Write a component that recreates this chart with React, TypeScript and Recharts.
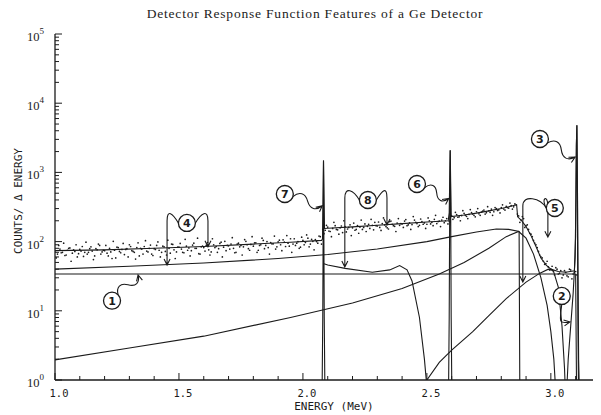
import React from "react";
import {
  ComposedChart,
  Line,
  Scatter,
  XAxis,
  YAxis,
  ReferenceLine,
  ReferenceDot,
} from "recharts";

const TITLE = "Detector Response Function Features of a Ge Detector";

// measured spectrum: channels every 10 keV from 1.000 MeV, plus the
// interleaved channels (offset by 5 keV)
const SPEC_START = 1.0;
const SPEC_STEP = 0.01;
const SPEC_COUNTS = [
  74, 66, 78, 70, 63, 75, 81, 68, 72, 60,
  77, 85, 70, 66, 79, 73, 62, 76, 88, 71,
  74, 68, 80, 57, 75, 83, 72, 77, 65, 79,
  90, 74, 70, 82, 62, 78, 85, 73, 80, 66,
  79, 88, 75, 70, 84, 64, 80, 92, 76, 71,
  83, 78, 69, 86, 81, 74, 95, 80, 67, 84,
  82, 88, 76, 71, 90, 85, 79, 98, 83, 74,
  87, 92, 80, 70, 95, 88, 84, 101, 79, 91,
  86, 96, 75, 90, 104, 88, 82, 97, 93, 78,
  99, 90, 106, 85, 95, 110, 92, 88, 100, 83,
  104, 97, 112, 92, 101, 107, 95, 118,
  150, 146, 162, 140, 155, 170, 148, 158, 135, 165, 152, 175,
  158, 146, 170, 162, 150, 180, 166, 155, 172, 190,
  168, 160, 182, 174, 158, 195, 178, 166, 185, 172,
  180, 198, 170, 186, 176, 205, 182, 172, 195, 186,
  178, 200, 190, 210, 182, 198, 205, 188, 215, 196,
  235, 222, 245, 228, 238, 255, 232, 248, 262, 240,
  270, 252, 266, 285, 262, 278, 295, 270, 300, 288,
  310, 296, 322, 305, 330, 318, 340, 235, 205, 215,
  170, 150, 128, 104, 90, 72, 60, 52, 48, 43,
  40, 37, 42, 34, 38, 33, 36, 31, 39, 34, 37,
];
const SPEC_START_B = 1.005;
const SPEC_COUNTS_B = [
  58, 88, 69, 95, 64, 80, 52, 76, 90, 67,
  73, 61, 98, 70, 84, 55, 79, 92, 66, 75,
  88, 62, 71, 101, 58, 82, 69, 94, 77, 60,
  85, 72, 56, 96, 80, 66, 103, 71, 89, 63,
  77, 99, 60, 86, 72, 105, 68, 91, 57, 83,
  94, 70, 108, 75, 62, 89, 80, 112, 66, 86,
  73, 97, 64, 110, 82, 70, 94, 60, 101, 88,
  78, 114, 69, 92, 84, 64, 107, 90, 75, 118,
  96, 70, 88, 112, 79, 100, 66, 93, 120, 84,
  105, 74, 98, 122, 86, 70, 110, 95, 80, 116,
  90, 125, 84, 108, 76, 100, 120, 92,
  130, 172, 142, 118, 190, 150, 128, 168, 200, 138, 160, 122,
  185, 150, 132, 205, 160, 140, 178, 210, 148, 170,
  192, 145, 220, 165, 152, 198, 170, 140, 215, 182,
  160, 208, 175, 150, 230, 190, 165, 212, 178, 155,
  220, 180, 170, 240, 195, 165, 225, 200, 180, 250,
  210, 265, 225, 200, 280, 240, 215, 290, 250, 228,
  300, 240, 275, 250, 320, 265, 240, 310, 282, 260,
  340, 285, 310, 360, 295, 350, 250, 190, 230, 160,
  175, 132, 118, 95, 82, 64, 58, 47, 52, 39,
  44, 33, 40, 35, 30, 38, 32, 40, 29, 36, 33,
];

// total fit through the spectrum
const FIT_E = [
  1.0, 1.2, 1.4, 1.6, 1.8, 1.95, 2.075, 2.079, 2.083, 2.087, 2.1, 2.2, 2.3,
  2.4, 2.5, 2.586, 2.59, 2.594, 2.598, 2.65, 2.7, 2.75, 2.8, 2.862, 2.866,
  2.88, 2.9, 2.92, 2.94, 2.96, 2.98, 3.0, 3.03, 3.06, 3.095, 3.1, 3.103,
  3.105, 3.108, 3.112, 3.116,
];
const FIT_V = [
  74, 76, 80, 85, 92, 98, 104, 110, 1450, 155, 156, 163, 172,
  182, 192, 200, 260, 2050, 230, 242, 258, 278, 300, 340, 228,
  205, 165, 122, 85, 58, 46, 40, 37, 36, 38, 120, 2500,
  4800, 300, 2, 0.5,
];

// (1) flat step continuum
const FLAT_E = [1.0, 3.1, 3.104];
const FLAT_V = [34, 34, 0.5];

// (4) Compton continuum with sharp edge
const COMPTON_E = [1.0, 1.3, 1.6, 1.9, 2.1, 2.3, 2.5, 2.6, 2.7, 2.78, 2.83, 2.872, 2.875];
const COMPTON_V = [40, 44, 49, 57, 65, 78, 100, 118, 138, 152, 150, 140, 0.5];

// multiple Compton continuum
const MULTI_E = [
  1.0, 1.3, 1.6, 1.95, 2.2, 2.4, 2.55, 2.65, 2.75, 2.82, 2.87, 2.9, 2.93,
  2.96, 2.985, 3.0, 3.012, 3.022,
];
const MULTI_V = [
  1.95, 2.9, 4.3, 8, 13, 21, 34, 50, 80, 118, 140, 112, 66,
  30, 12, 5, 2, 0.5,
];

// (8) escape continuum
const ESCAPE_E = [2.085, 2.1, 2.17, 2.28, 2.35, 2.39, 2.42, 2.44, 2.47, 2.49, 2.505];
const ESCAPE_V = [48, 46, 41, 36, 39, 45, 39, 27, 8, 2, 0.5];

// rising component below the Compton edge
const EDGE_E = [2.465, 2.5, 2.55, 2.6, 2.685, 2.75, 2.82, 2.9, 2.956, 2.99, 3.01, 3.03, 3.045, 3.055, 3.06];
const EDGE_V = [0.5, 1.0, 1.8, 2.7, 5, 8.5, 15, 26, 35, 40, 38, 22, 6, 1.5, 0.5];

// (7) double escape peak
const PEAK7_E = [2.077, 2.08, 2.082, 2.083, 2.084, 2.086, 2.089];
const PEAK7_V = [0.5, 8, 300, 1500, 300, 8, 0.5];

// (6) single escape peak
const PEAK6_E = [2.587, 2.59, 2.592, 2.594, 2.596, 2.598, 2.601];
const PEAK6_V = [0.5, 8, 300, 2100, 300, 8, 0.5];

// (3) full energy peak with (2) low energy tail
const PEAK3_E = [3.062, 3.07, 3.08, 3.09, 3.098, 3.101, 3.103, 3.105, 3.107, 3.109, 3.112];
const PEAK3_V = [0.5, 2, 6, 18, 60, 400, 2500, 4800, 400, 8, 0.5];

const X_TICKS = [
  1.0, 1.1, 1.2, 1.3, 1.4, 1.5, 1.6, 1.7, 1.8, 1.9, 2.0, 2.1, 2.2, 2.3, 2.4,
  2.5, 2.6, 2.7, 2.8, 2.9, 3.0, 3.1,
];
const Y_DECADES = [1, 10, 100, 1000, 10000, 100000];
const Y_TICKS = Y_DECADES.flatMap((d) =>
  d === 100000 ? [d] : [1, 2, 3, 4, 5, 6, 7, 8, 9].map((m) => m * d),
);

// circled labels: circle position, arrow tips, arrow style
const NOTES = [
  { n: "1", at: [1.23, 14], tips: [[1.335, 33]], kind: "wave" },
  { n: "4", at: [1.532, 186], tips: [[1.452, 46], [1.617, 84]], kind: "bracket" },
  { n: "7", at: [1.927, 487], tips: [[2.078, 330]], kind: "wave" },
  { n: "8", at: [2.262, 399], tips: [[2.169, 43], [2.339, 174]], kind: "bracket" },
  { n: "6", at: [2.46, 680], tips: [[2.588, 420]], kind: "wave" },
  { n: "3", at: [2.956, 3040], tips: [[3.098, 1670]], kind: "wave" },
  { n: "5", at: [3.016, 306], tips: [[2.887, 26], [2.988, 116]], kind: "bracket" },
  { n: "2", at: [3.044, 16.4], tips: [[3.077, 6.9]], kind: "hook" },
];

const zip = (e: number[], v: number[]) => e.map((x, i) => ({ e: x, v: v[i] }));
const channels = (start: number, counts: number[]) =>
  counts.map((v, i) => ({ e: Math.round((start + i * SPEC_STEP) * 1000) / 1000, v }));
const spectrum = [
  ...channels(SPEC_START, SPEC_COUNTS),
  ...channels(SPEC_START_B, SPEC_COUNTS_B),
];

const INK = "#1b1b1b";
const R = 8.5;

function arrowPath(kind: string, cx: number, cy: number, tx: number, ty: number) {
  let d = "";
  let qx = cx;
  let qy = cy;
  if (kind === "bracket") {
    const side = tx < cx ? -1 : 1;
    const sx = cx + side * R;
    d = `M${sx},${cy} C${sx + side * 6},${cy - 10} ${tx},${cy - 14} ${tx},${cy - 2} L${tx},${ty}`;
    qx = tx;
    qy = cy - 2;
  } else if (kind === "hook") {
    const sy = cy + R;
    d = `M${cx},${sy} C${cx - 2},${ty} ${tx - 12},${ty + 2} ${tx},${ty}`;
    qx = tx - 12;
    qy = ty + 2;
  } else {
    const dx = tx - cx;
    const dy = ty - cy;
    const len = Math.hypot(dx, dy) || 1;
    const ux = dx / len;
    const uy = dy / len;
    const nx = -uy;
    const ny = ux;
    const sx = cx + ux * R;
    const sy = cy + uy * R;
    const ddx = tx - sx;
    const ddy = ty - sy;
    const p = (f: number, o: number) =>
      `${sx + ddx * f + nx * o},${sy + ddy * f + ny * o}`;
    d = `M${sx},${sy} C${p(0.15, -7)} ${p(0.35, -7)} ${p(0.5, 0)} C${p(0.65, 7)} ${p(0.85, 7)} ${tx},${ty}`;
    qx = sx + ddx * 0.85 + nx * 7;
    qy = sy + ddy * 0.85 + ny * 7;
  }
  const l = Math.hypot(tx - qx, ty - qy) || 1;
  const ux = (tx - qx) / l;
  const uy = (ty - qy) / l;
  const ax = tx - ux * 6;
  const ay = ty - uy * 6;
  d += ` M${ax - uy * 3},${ay + ux * 3} L${tx},${ty} L${ax + uy * 3},${ay - ux * 3}`;
  return d;
}

const isMajorX = (v: number) => Math.abs(v * 2 - Math.round(v * 2)) < 1e-6;
const isDecade = (v: number) => {
  const l = Math.log10(v);
  return Math.abs(l - Math.round(l)) < 1e-9;
};

const BottomTick = ({ x, y, payload }: any) => {
  const major = isMajorX(payload.value);
  return (
    <g>
      <line x1={x} y1={y} x2={x} y2={y - (major ? 7 : 4)} stroke={INK} />
      {major && (
        <text
          x={x + 4}
          y={y + 17}
          textAnchor="middle"
          fontFamily="DejaVu Sans Mono"
          fontSize={10.5}
          fill={INK}
        >
          {payload.value.toFixed(1)}
        </text>
      )}
    </g>
  );
};

const TopTick = ({ x, y, payload }: any) => (
  <line x1={x} y1={y} x2={x} y2={y + (isMajorX(payload.value) ? 7 : 4)} stroke={INK} />
);

const LeftTick = ({ x, y, payload }: any) => {
  const major = isDecade(payload.value);
  return (
    <g>
      <line x1={x} y1={y} x2={x + (major ? 7 : 4)} y2={y} stroke={INK} />
      {major && (
        <text x={x - 28} y={y + 7} fontFamily="Liberation Serif" fontSize={12.5} fill={INK}>
          10
          <tspan dy={-7} fontSize={9}>
            {Math.round(Math.log10(payload.value))}
          </tspan>
        </text>
      )}
    </g>
  );
};

const RightTick = ({ x, y, payload }: any) => (
  <line x1={x} y1={y} x2={x - (isDecade(payload.value) ? 7 : 4)} y2={y} stroke={INK} />
);

const Dot = ({ cx, cy }: any) => <circle cx={cx} cy={cy} r={0.85} fill={INK} />;

const lineProps = {
  xAxisId: "b",
  yAxisId: "l",
  dataKey: "v",
  type: "linear" as const,
  stroke: INK,
  strokeWidth: 1.1,
  dot: false,
  activeDot: false,
  isAnimationActive: false,
};

export default function App() {
  return (
    <div
      style={{
        position: "absolute",
        left: 0,
        top: 0,
        width: 601,
        height: 415,
        background: "#fff",
        overflow: "hidden",
      }}
    >
      <div
        style={{
          position: "absolute",
          left: 115,
          width: 400,
          top: 6,
          textAlign: "center",
          fontFamily: "Liberation Serif",
          fontSize: 13.5,
          letterSpacing: 0.8,
          color: INK,
        }}
      >
        {TITLE}
      </div>
      <div
        style={{
          position: "absolute",
          left: 234,
          width: 200,
          top: 400,
          textAlign: "center",
          fontFamily: "DejaVu Sans Mono",
          fontSize: 11,
          color: INK,
        }}
      >
        ENERGY (MeV)
      </div>
      <div
        style={{
          position: "absolute",
          left: 18,
          top: 201,
          transform: "translate(-50%, -50%) rotate(-90deg)",
          whiteSpace: "nowrap",
          fontFamily: "DejaVu Sans Mono",
          fontSize: 11,
          color: INK,
        }}
      >
        COUNTS/ Δ ENERGY
      </div>
      <ComposedChart
        width={601}
        height={415}
        margin={{ top: 34, right: 8, bottom: 0, left: 0 }}
        style={{ position: "absolute", left: 0, top: 0 }}
      >
        <XAxis
          xAxisId="b"
          dataKey="e"
          type="number"
          domain={[1, 3.17]}
          allowDataOverflow
          ticks={X_TICKS}
          interval={0}
          height={35}
          tickSize={0}
          tickMargin={0}
          tickLine={false}
          axisLine={{ stroke: INK, strokeWidth: 1.3 }}
          tick={BottomTick}
        />
        <XAxis
          xAxisId="t"
          orientation="top"
          dataKey="e"
          type="number"
          domain={[1, 3.17]}
          allowDataOverflow
          ticks={X_TICKS}
          interval={0}
          height={0}
          tickSize={0}
          tickMargin={0}
          tickLine={false}
          axisLine={{ stroke: INK, strokeWidth: 1.3 }}
          tick={TopTick}
        />
        <YAxis
          yAxisId="l"
          dataKey="v"
          type="number"
          scale="log"
          domain={[1, 100000]}
          allowDataOverflow
          ticks={Y_TICKS}
          interval={0}
          width={55}
          tickSize={0}
          tickMargin={0}
          tickLine={false}
          axisLine={{ stroke: INK, strokeWidth: 1.3 }}
          tick={LeftTick}
        />
        <YAxis
          yAxisId="r"
          orientation="right"
          dataKey="v"
          type="number"
          scale="log"
          domain={[1, 100000]}
          allowDataOverflow
          ticks={Y_TICKS}
          interval={0}
          width={0}
          tickSize={0}
          tickMargin={0}
          tickLine={false}
          axisLine={{ stroke: INK, strokeWidth: 1.3 }}
          tick={RightTick}
        />

        <Line {...lineProps} data={zip(FLAT_E, FLAT_V)} />
        <Line {...lineProps} data={zip(COMPTON_E, COMPTON_V)} />
        <Line {...lineProps} data={zip(MULTI_E, MULTI_V)} />
        <Line {...lineProps} data={zip(ESCAPE_E, ESCAPE_V)} />
        <Line {...lineProps} data={zip(EDGE_E, EDGE_V)} />
        <Line {...lineProps} data={zip(PEAK7_E, PEAK7_V)} />
        <Line {...lineProps} data={zip(PEAK6_E, PEAK6_V)} />
        <Line {...lineProps} data={zip(PEAK3_E, PEAK3_V)} />
        <Line {...lineProps} data={zip(FIT_E, FIT_V)} />
        <Scatter
          xAxisId="b"
          yAxisId="l"
          data={spectrum}
          dataKey="v"
          shape={Dot}
          isAnimationActive={false}
        />

        {NOTES.flatMap((note) =>
          note.tips.map((tip, i) => (
            <ReferenceLine
              key={`a${note.n}${i}`}
              xAxisId="b"
              yAxisId="l"
              segment={[
                { x: note.at[0], y: note.at[1] },
                { x: tip[0], y: tip[1] },
              ]}
              ifOverflow="visible"
              shape={(p: any) => (
                <path
                  d={arrowPath(note.kind, p.x1, p.y1, p.x2, p.y2)}
                  fill="none"
                  stroke={INK}
                  strokeWidth={1.1}
                />
              )}
            />
          )),
        )}
        {NOTES.map((note) => (
          <ReferenceDot
            key={`c${note.n}`}
            xAxisId="b"
            yAxisId="l"
            x={note.at[0]}
            y={note.at[1]}
            r={R}
            ifOverflow="visible"
            shape={(p: any) => (
              <g>
                <circle cx={p.cx} cy={p.cy} r={R} fill="#fff" stroke={INK} strokeWidth={1.3} />
                <text
                  x={p.cx}
                  y={p.cy + 4}
                  textAnchor="middle"
                  fontFamily="DejaVu Sans"
                  fontWeight="bold"
                  fontSize={11}
                  fill={INK}
                >
                  {note.n}
                </text>
              </g>
            )}
          />
        ))}
      </ComposedChart>
    </div>
  );
}
